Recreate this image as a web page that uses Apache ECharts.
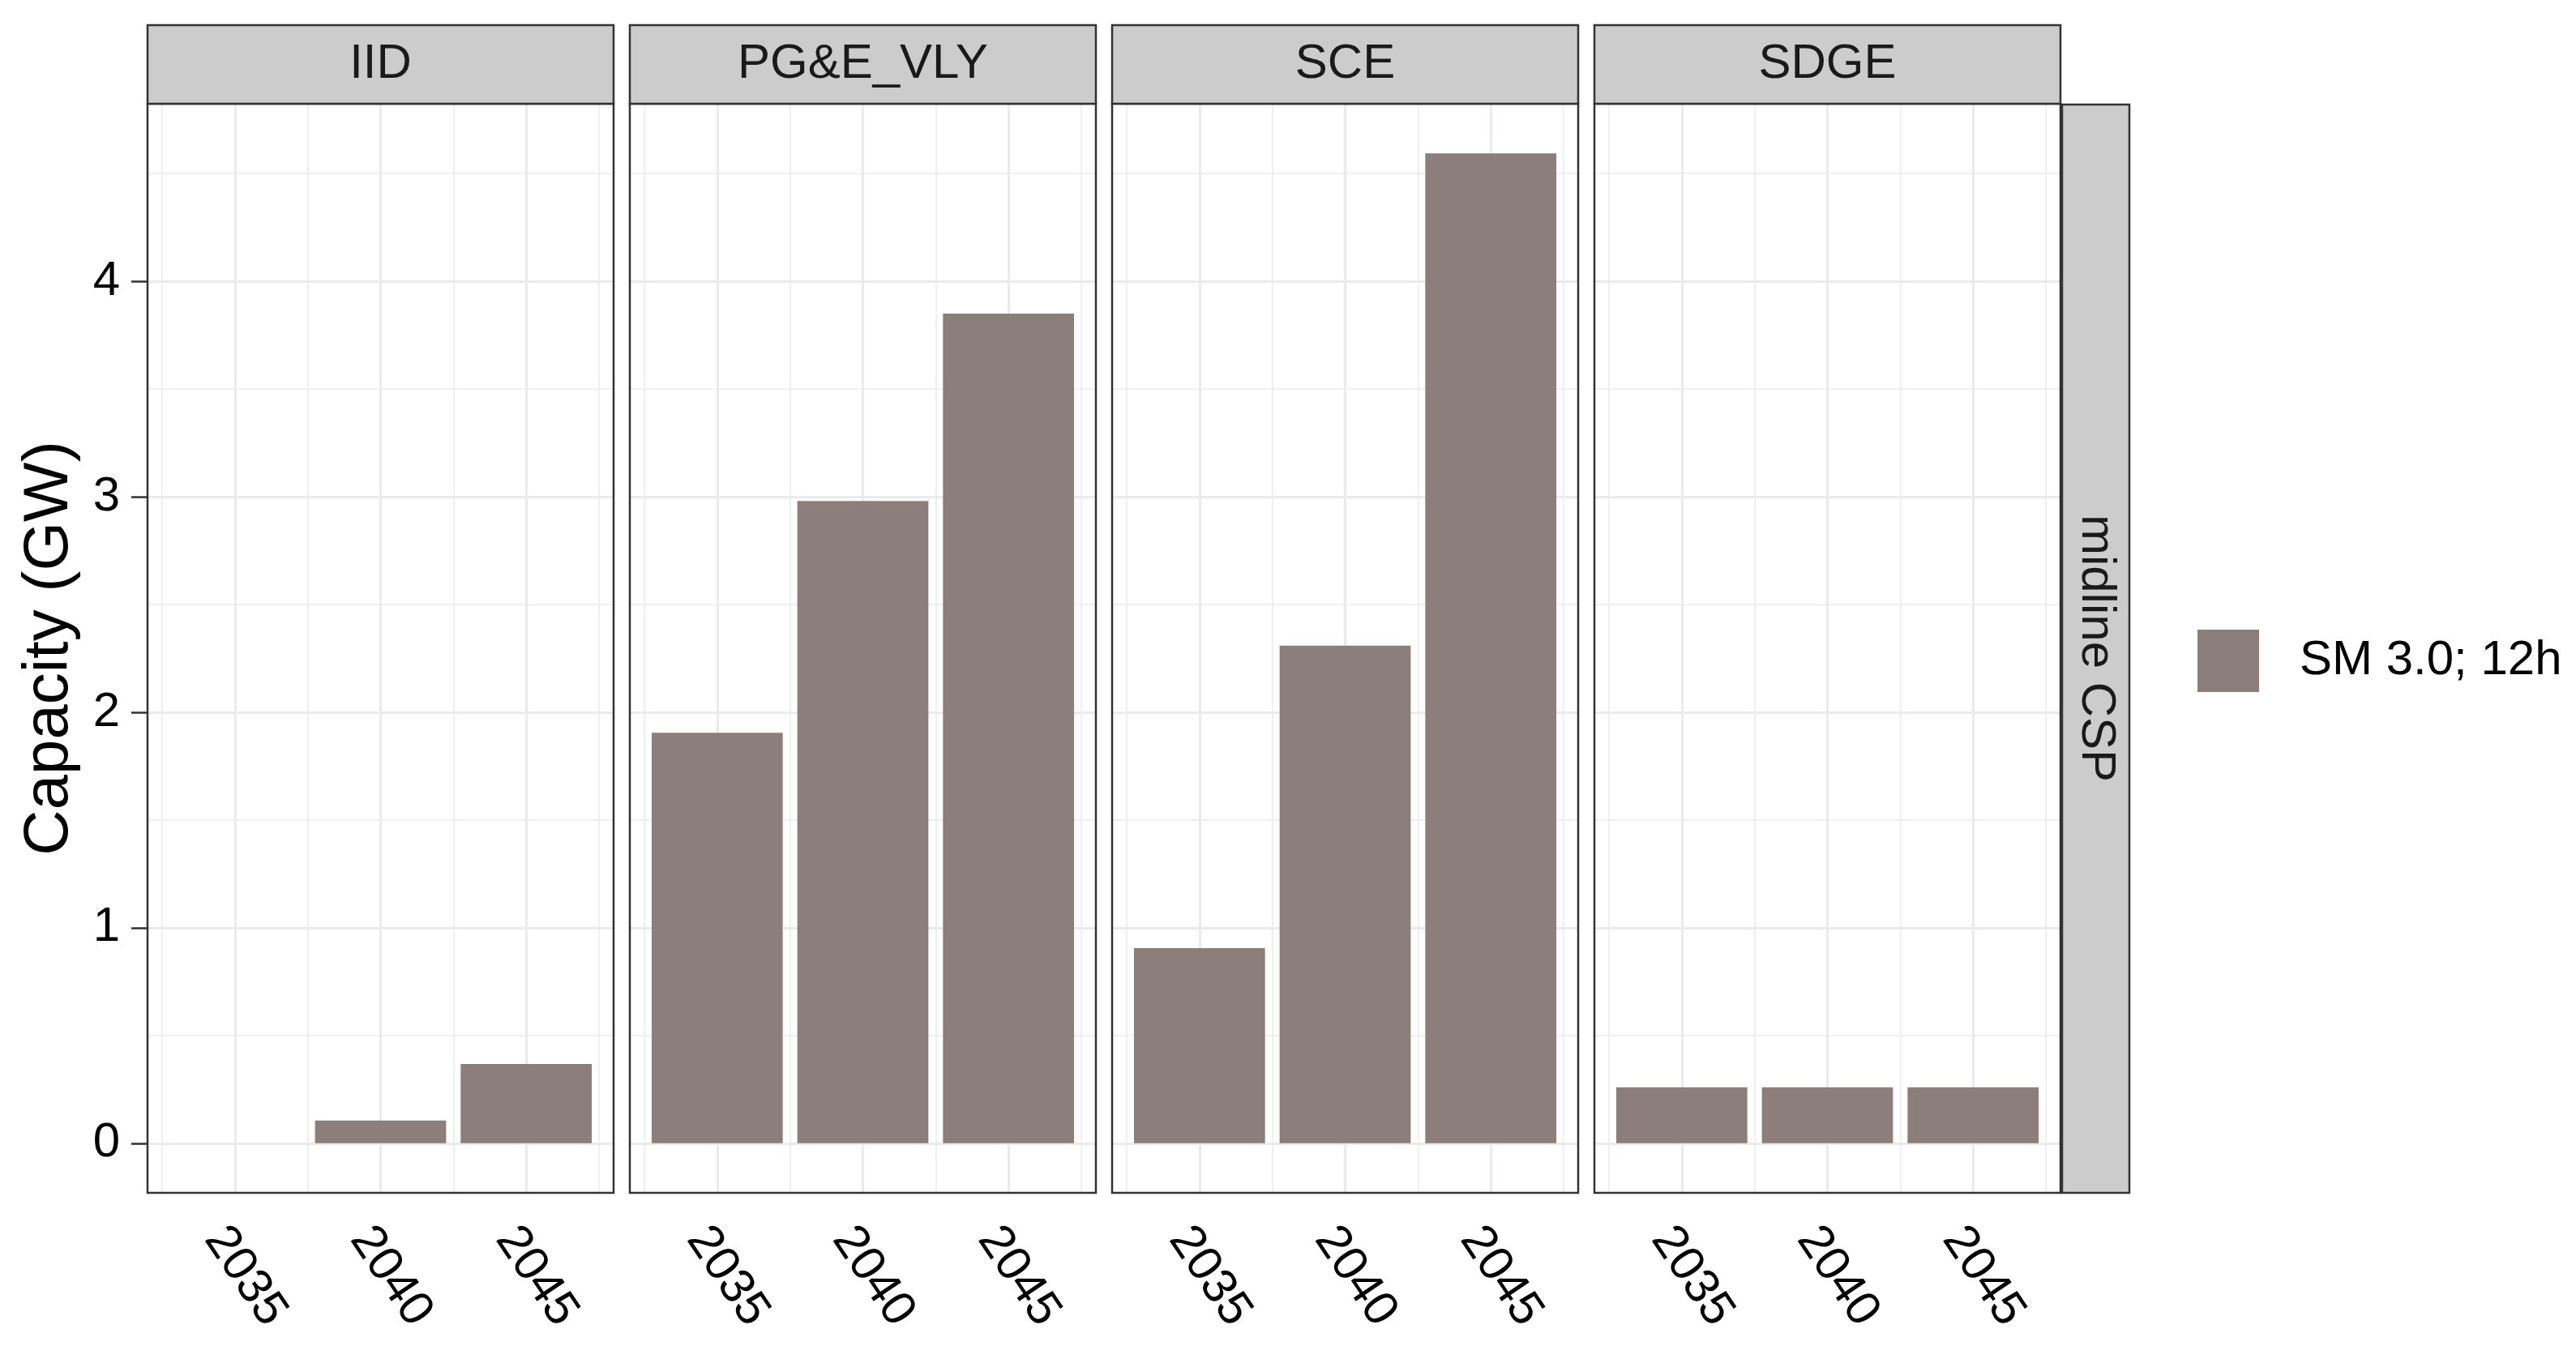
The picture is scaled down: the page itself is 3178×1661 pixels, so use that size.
<!DOCTYPE html>
<html>
<head>
<meta charset="utf-8">
<script src="https://cdn.jsdelivr.net/npm/echarts@6/dist/echarts.min.js"></script>
<style>
html,body{margin:0;padding:0;background:#fff;}
#chart{width:3178px;height:1661px;}
</style>
</head>
<body>
<div id="chart"></div>
<script>
// ---- data ----
const regions = ['IID', 'PG&E_VLY', 'SCE', 'SDGE'];
const years = ['2035', '2040', '2045'];
const yTicks = [0, 1, 2, 3, 4];
const seriesName = 'SM 3.0; 12h';
const rowLabel = 'midline CSP';
const iidValues = [null, 0.106, 0.368];
const pgeValues = [1.905, 2.98, 3.85];
const sceValues = [0.906, 2.309, 4.594];
const sdgeValues = [0.26, 0.26, 0.26];
const yTitle = 'Capacity (GW)';

const panelValues = [iidValues, pgeValues, sceValues, sdgeValues];

// ---- layout / style ----
const FONT = '"Liberation Sans", Arial, sans-serif';
const BAR_COLOR = '#8C7F7B';
const GRID_COLOR = '#EBEBEB';
const BORDER = '#333333';
const panelLeft0 = 182, panelW = 575, panelGap = 20;
const panelTop = 128, panelH = 1344;
const stripTop = 31, stripH = 97;
const yMin = -0.23, yMax = 4.824;
const xMin = 0.4, xMax = 3.6;

const grids = [], xAxes = [], yAxes = [], series = [], graphics = [];

const vLines = [];
for (let v = 0.5; v <= 3.5; v += 0.5) vLines.push(v);
const hLines = [];
for (let v = 0; v <= 4.5; v += 0.5) hLines.push(v);

panelValues.forEach((vals, p) => {
  const left = panelLeft0 + p * (panelW + panelGap);
  grids.push({
    left: left, top: panelTop, width: panelW, height: panelH,
    show: true, borderColor: BORDER, borderWidth: 2.5,
    backgroundColor: 'rgba(0,0,0,0)', z: 3, outerBoundsMode: 'none'
  });
  xAxes.push({
    type: 'value', gridIndex: p, min: xMin, max: xMax,
    axisLine: { show: false },
    splitLine: { show: false },
    axisTick: { show: true, length: 20, customValues: [1, 2, 3], lineStyle: { color: BORDER, width: 2.5 } },
    axisLabel: {
      show: true, customValues: [1, 2, 3], rotate: -56, margin: 31,
      align: 'left', verticalAlign: 'top',
      fontSize: 60, fontFamily: FONT, color: '#000',
      formatter: (v) => years[Math.round(v) - 1]
    }
  });
  yAxes.push({
    type: 'value', gridIndex: p, min: yMin, max: yMax,
    axisLine: { show: false },
    splitLine: { show: false },
    axisTick: { show: p === 0, length: 20, customValues: yTicks, lineStyle: { color: BORDER, width: 2.5 } },
    axisLabel: { show: p === 0, customValues: yTicks, margin: 34, fontSize: 60, fontFamily: FONT, color: '#000' },
    name: p === 0 ? yTitle : '',
    nameLocation: 'middle', nameRotate: 90, nameGap: 82,
    nameTextStyle: { fontSize: 78, fontFamily: FONT, color: '#000' }
  });
  const mlData = [];
  vLines.forEach(v => mlData.push({ xAxis: v, lineStyle: { color: GRID_COLOR, width: Number.isInteger(v) ? 3 : 1.5, type: 'solid' } }));
  hLines.forEach(v => mlData.push({ yAxis: v, lineStyle: { color: GRID_COLOR, width: Number.isInteger(v) ? 3 : 1.5, type: 'solid' } }));
  series.push({
    type: 'bar', name: seriesName, xAxisIndex: p, yAxisIndex: p,
    barWidth: 0.9 * panelW / (xMax - xMin),
    itemStyle: { color: BAR_COLOR },
    data: vals.map((v, i) => [i + 1, v]),
    z: 2,
    markLine: { silent: true, symbol: 'none', label: { show: false }, z: 1, animation: false, data: mlData }
  });
  // strip
  graphics.push({
    type: 'rect', shape: { x: left, y: stripTop, width: panelW, height: stripH },
    style: { fill: '#CCCCCC', stroke: BORDER, lineWidth: 2.5 }, z: 10
  });
  graphics.push({
    type: 'text', x: left + panelW / 2, y: stripTop + stripH / 2,
    style: { text: regions[p], fill: '#1A1A1A', font: '60px ' + FONT, textAlign: 'center', textVerticalAlign: 'middle' },
    z: 11
  });
});

const lastRight = panelLeft0 + 3 * (panelW + panelGap) + panelW;
graphics.push({
  type: 'rect', shape: { x: lastRight + 2, y: panelTop + 1, width: 83, height: panelH - 1 },
  style: { fill: '#CCCCCC', stroke: BORDER, lineWidth: 2.5 }, z: 10
});
graphics.push({
  type: 'text', x: lastRight + 2 + 83 / 2, y: panelTop + panelH / 2, rotation: -Math.PI / 2,
  style: { text: rowLabel, fill: '#1A1A1A', font: '60px ' + FONT, textAlign: 'center', textVerticalAlign: 'middle' },
  z: 11
});

const chart = echarts.init(document.getElementById('chart'), null, { renderer: 'canvas' });
chart.setOption({
  animation: false,
  backgroundColor: '#fff',
  grid: grids,
  xAxis: xAxes,
  yAxis: yAxes,
  series: series,
  legend: {
    data: [seriesName], left: 2711, top: 777, padding: 0,
    itemWidth: 76, itemHeight: 77, icon: 'rect',
    textStyle: { fontSize: 60, fontFamily: FONT, color: '#000', padding: [0, 0, 0, 45] },
    selectedMode: false
  },
  graphic: graphics
});
</script>
</body>
</html>
